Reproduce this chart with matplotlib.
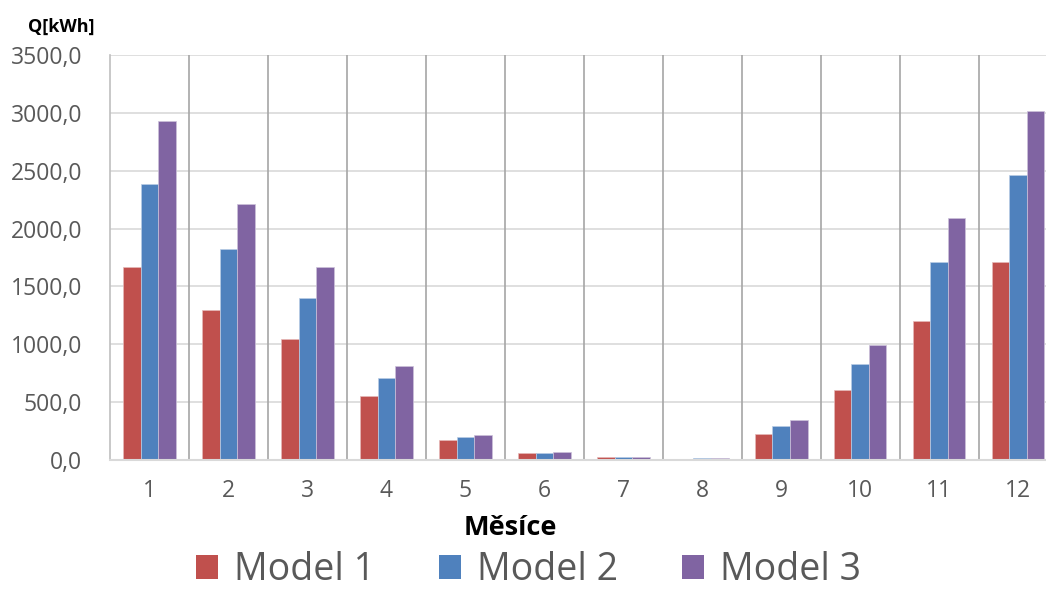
import numpy as np
import matplotlib
matplotlib.use("Agg")
import matplotlib.pyplot as plt
from matplotlib.patches import Patch

plt.rcParams['font.family'] = ['Open Sans', 'DejaVu Sans']

# monthly heat demand Q [kWh] for three models
months = ['1', '2', '3', '4', '5', '6', '7', '8', '9', '10', '11', '12']
model1 = [1672, 1297, 1044, 551, 170, 58, 22, 12, 228, 608, 1205, 1715]
model2 = [2388, 1822, 1404, 707, 199, 63, 25, 13, 294, 828, 1715, 2463]
model3 = [2932, 2211, 1672, 816, 219, 72, 28, 14, 343, 998, 2093, 3013]
series_names = ['Model 1', 'Model 2', 'Model 3']
colorlist = ['#C0504D', '#4F81BD', '#8064A2']
edgelist = ['#e6b9b8', '#b9cde5', '#ccc1da']

W, H = 1046, 592
fig = plt.figure(figsize=(W / 100, H / 100), dpi=100)
# plot area runs slightly past the right edge of the figure
ax = fig.add_axes([110 / W, (H - 460) / H, 947.6 / W, 405 / H])

x = np.arange(1, len(months) + 1)
width = 0.222
for j, vals in enumerate([model1, model2, model3]):
    ax.bar(x + (j - 1) * width, vals, width=width, color=colorlist[j],
           edgecolor=edgelist[j], linewidth=0.5, zorder=3, label=series_names[j])

ax.set_xlim(0.5, 12.5)
ax.set_ylim(0, 3500)
ax.set_yticks(np.arange(0, 3501, 500))
ax.set_yticklabels([('%.1f' % v).replace('.', ',') for v in np.arange(0, 3501, 500)])
ax.set_xticks(x)
ax.set_xticklabels(months)

# horizontal grid light, category separators darker
for v in np.arange(500, 3501, 500):
    ax.axhline(v, color='#d9d9d9', linewidth=1.2, zorder=1)
for b in np.arange(1.5, 12.5, 1.0):
    ax.axvline(b, color='#a6a6a6', linewidth=1.2, zorder=1)

for s in ['top', 'right']:
    ax.spines[s].set_visible(False)
ax.spines['left'].set_color('#bfbfbf')
ax.spines['left'].set_linewidth(1.2)
ax.spines['bottom'].set_color('#d9d9d9')
ax.spines['bottom'].set_linewidth(1.5)
ax.spines['bottom'].set_zorder(4)

ax.tick_params(axis='both', length=0, labelsize=16.5, labelcolor='#595959')
ax.tick_params(axis='y', pad=20)
ax.tick_params(axis='x', pad=14)

fig.text(28 / W, 1 - 18 / H, 'Q[kWh]', fontsize=13, fontweight='bold',
         ha='left', va='top', color='black')
fig.text(510 / W, (H - 535) / H, 'Měsíce', fontsize=19.5, fontweight='bold',
         ha='center', va='baseline', color='black')

handles = [Patch(facecolor=c, edgecolor='none') for c in colorlist]
fig.legend(handles, series_names, loc='center', bbox_to_anchor=(0.505, 0.037),
           ncol=3, frameon=False, fontsize=27, labelcolor='#595959',
           handlelength=0.59, handleheight=0.59, handletextpad=0.43,
           columnspacing=1.7, borderpad=0.1)

fig.savefig('out.png', dpi=100)
